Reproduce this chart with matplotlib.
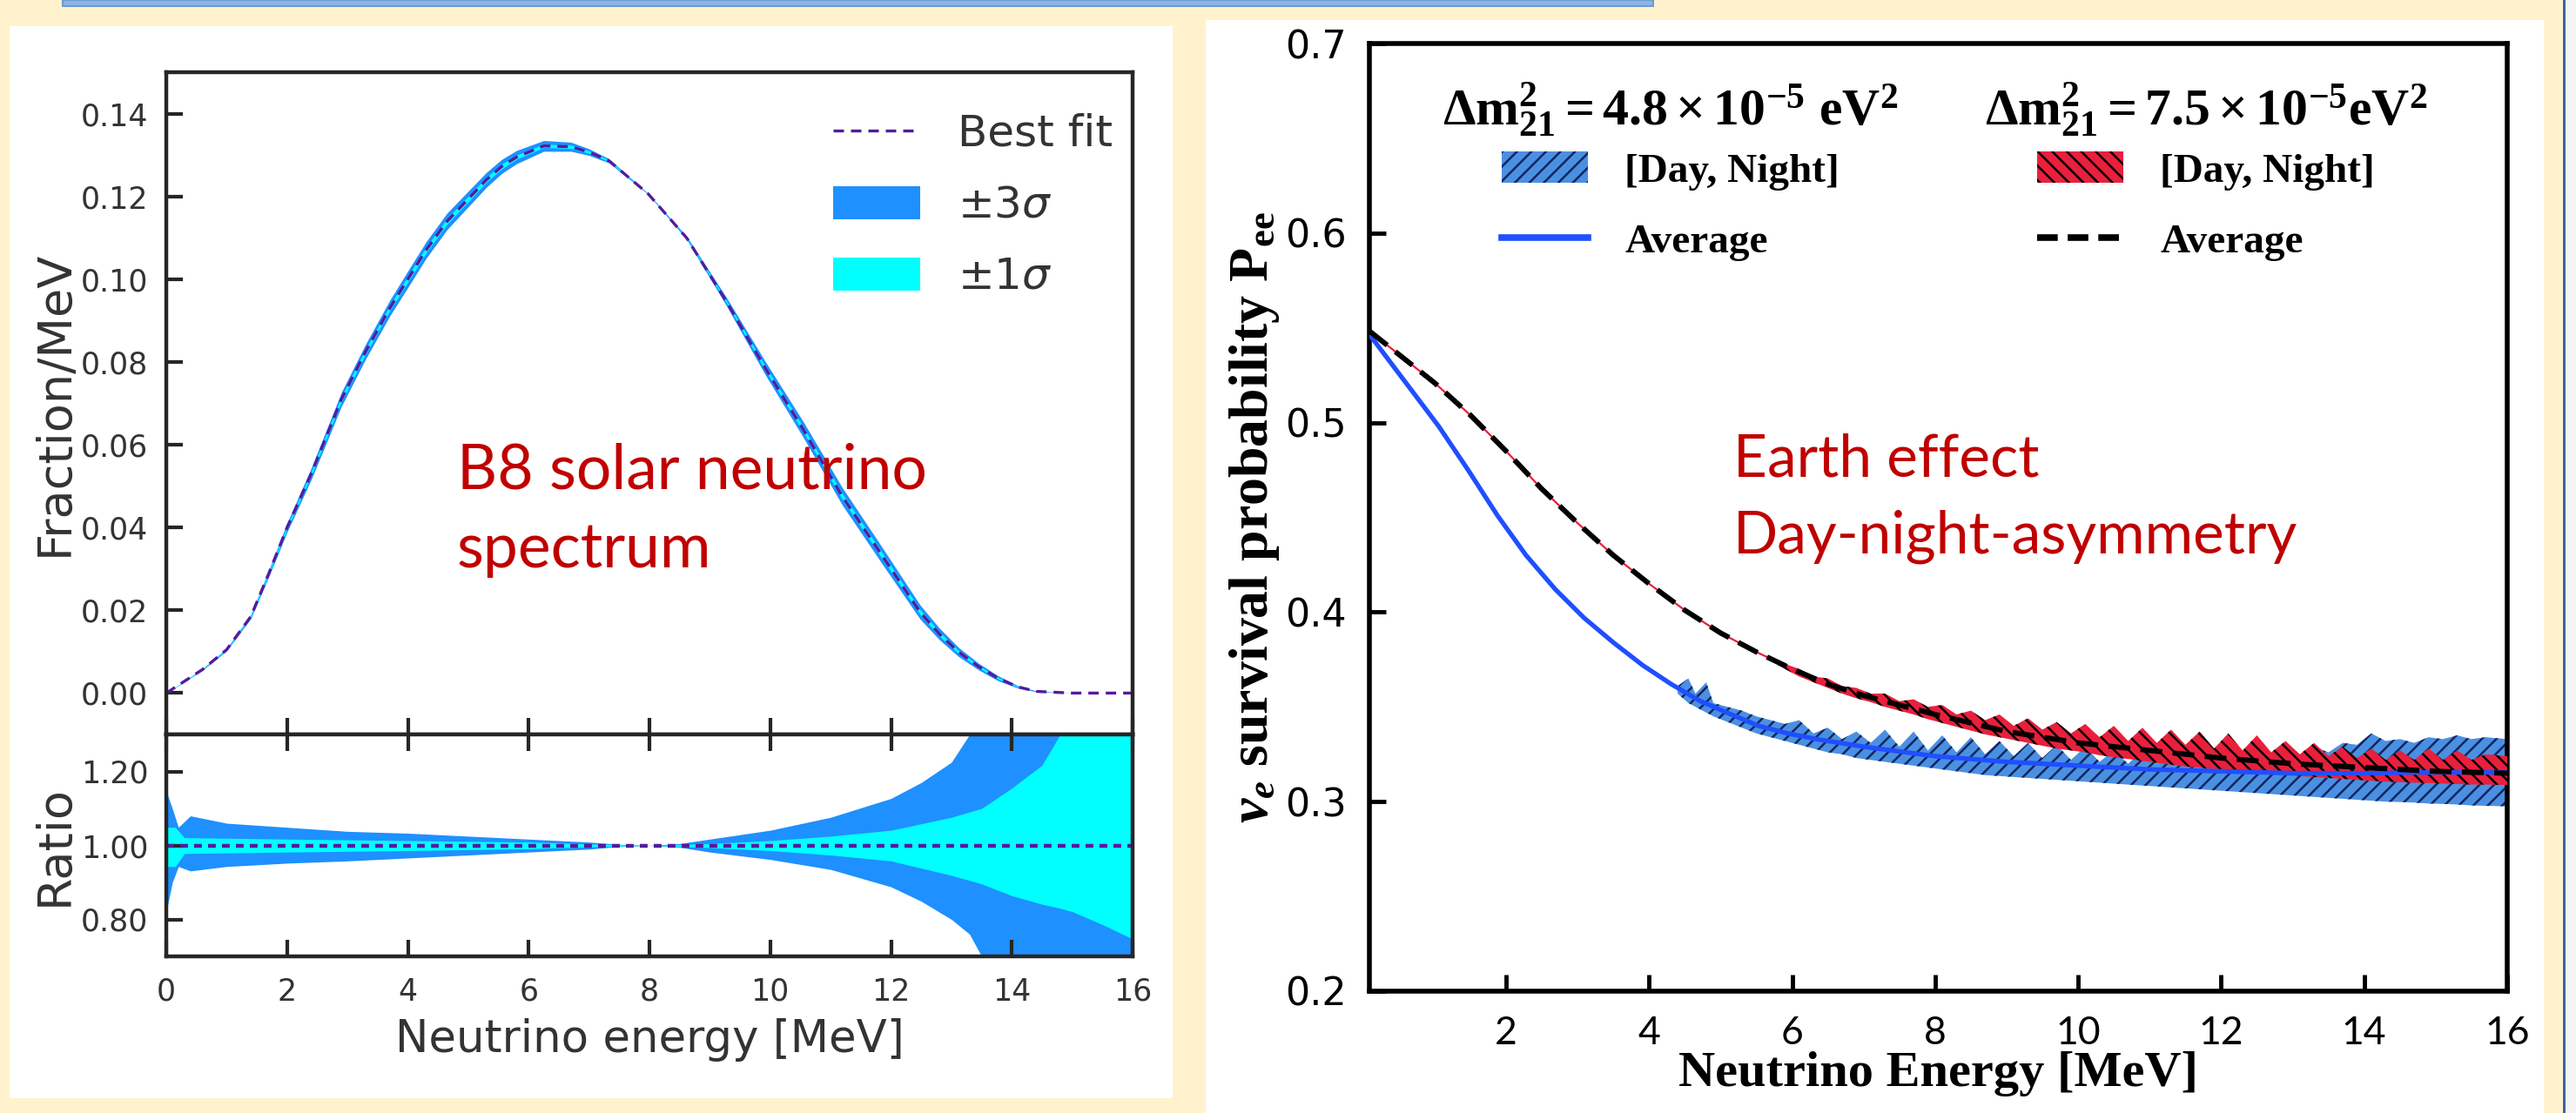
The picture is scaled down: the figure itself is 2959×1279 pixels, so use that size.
import numpy as np
import matplotlib
matplotlib.use("Agg")
import matplotlib.pyplot as plt
from matplotlib.patches import Rectangle, Patch
from matplotlib.lines import Line2D
from matplotlib.font_manager import FontProperties
from matplotlib.ticker import FormatStrFormatter

# ---------------- data: B8 spectrum (left) ----------------
E_spec = [0, 0.6, 1.0, 1.4, 1.7, 2.0, 2.4, 2.9, 3.3, 3.7, 4.0, 4.3, 4.65, 5.3, 5.55, 5.8, 6.25,
          6.7, 7.0, 7.33, 7.98, 8.62, 9.27, 9.91, 10.55, 11.19, 11.84, 12.48, 12.8, 13.12,
          13.45, 13.77, 14.1, 14.41, 15.0, 16.0]
spec_fit = [0, 0.0057, 0.0105, 0.0185, 0.029, 0.040, 0.053, 0.071, 0.0825, 0.093, 0.100,
            0.1070, 0.114, 0.124, 0.1272, 0.1295, 0.1322, 0.132, 0.1307, 0.1286, 0.1206,
            0.1099, 0.0947, 0.0787, 0.0636, 0.0476, 0.0335, 0.0196, 0.0143, 0.0099, 0.0064,
            0.0036, 0.0015, 0.0004, 0.0, 0.0]
spec_err3 = [0, 0.0002, 0.0003, 0.0005, 0.0008, 0.0011, 0.0014, 0.0017, 0.0018, 0.0019,
             0.0020, 0.0020, 0.0020, 0.0018, 0.0017, 0.0016, 0.0013, 0.0011, 0.0008, 0.0005,
             0.0001, 0.0004, 0.0010, 0.0016, 0.0019, 0.0021, 0.0020, 0.0017, 0.0014, 0.0011,
             0.0008, 0.0006, 0.0003, 0.0001, 0.0, 0.0]
spec_err1 = [0, 0.0001, 0.0001, 0.0002, 0.0003, 0.0004, 0.0005, 0.0006, 0.0006, 0.0006,
             0.0007, 0.0007, 0.0007, 0.0006, 0.0006, 0.0005, 0.0004, 0.0004, 0.0003, 0.0002,
             0.0, 0.0001, 0.0003, 0.0005, 0.0006, 0.0007, 0.0007, 0.0006, 0.0005, 0.0004,
             0.0003, 0.0002, 0.0001, 0.0, 0.0, 0.0]

E_r3 = [0, 0.1, 0.2, 0.4, 1, 2, 3, 4, 5, 6, 7, 7.5, 8, 8.5, 9, 10, 11, 12, 12.5, 13, 13.3,
        13.5, 14, 15, 16]
r3_hi = [1.147, 1.10, 1.049, 1.08, 1.06, 1.049, 1.038, 1.033, 1.025, 1.017, 1.009, 1.003, 1.0,
         1.005, 1.017, 1.041, 1.076, 1.127, 1.17, 1.225, 1.30, 1.35, 1.4, 1.4, 1.4]
r3_lo = [0.821, 0.90, 0.943, 0.931, 0.943, 0.952, 0.958, 0.966, 0.974, 0.982, 0.99, 0.997, 1.0,
         0.995, 0.982, 0.962, 0.935, 0.888, 0.849, 0.80, 0.76, 0.70, 0.6, 0.6, 0.6]
E_r1 = [0, 0.15, 0.3, 2, 4, 6, 7, 8, 9, 10, 11, 12, 13, 13.5, 14, 14.5, 14.8, 15, 15.5, 16]
r1_hi = [1.049, 1.049, 1.021, 1.017, 1.013, 1.009, 1.004, 1.0, 1.005, 1.013, 1.025, 1.041,
         1.076, 1.10, 1.155, 1.217, 1.30, 1.33, 1.36, 1.40]
r1_lo = [0.943, 0.943, 0.978, 0.982, 0.986, 0.991, 0.996, 1.0, 0.994, 0.986, 0.974, 0.958,
         0.919, 0.896, 0.864, 0.841, 0.83, 0.821, 0.786, 0.747]

# ---------------- data: survival probability (right) ----------------
E_low = [0.1, 0.66, 1.06, 1.47, 1.88, 2.28, 2.69, 3.09, 3.50, 3.91, 4.31, 4.72, 5.12, 5.53,
         5.94, 6.34, 7.0, 8.0, 9.0, 10.0, 11.0, 12.0, 13.0, 14.0, 15.0, 16.0]
P_low_avg = [0.546, 0.518, 0.498, 0.475, 0.451, 0.430, 0.412, 0.397, 0.384, 0.372, 0.362,
             0.353, 0.3465, 0.340, 0.336, 0.333, 0.329, 0.324, 0.321, 0.319, 0.317, 0.316,
             0.315, 0.315, 0.3155, 0.3155]
E_high = [0.1, 0.5, 1.0, 1.5, 2.0, 2.5, 3.0, 3.5, 4.0, 4.5, 5.0, 5.5, 6.0, 6.5, 7.0, 8.0,
          9.0, 10.0, 11.0, 12.0, 13.0, 14.0, 15.0, 16.0]
P_high_avg = [0.548, 0.536, 0.521, 0.504, 0.485, 0.465, 0.447, 0.430, 0.415, 0.401, 0.389,
              0.379, 0.370, 0.362, 0.356, 0.346, 0.337, 0.331, 0.327, 0.323, 0.320, 0.318,
              0.316, 0.315]

E_bb = [4.4, 4.55, 4.65, 4.8, 4.9, 5.1, 5.3, 5.5, 5.7, 5.9, 6.1, 6.3, 6.5, 6.7, 6.9, 7.1, 7.3,
        7.5, 7.7, 7.9, 8.1, 8.3, 8.5, 8.7, 8.9, 9.1, 9.3, 9.5, 9.7, 9.9, 10.1, 10.3, 10.5, 10.7,
        10.9, 11.1, 11.3, 11.5, 11.7, 11.9, 12.1, 12.3, 12.5, 12.7, 12.9, 13.1, 13.3, 13.5, 13.7,
        13.9, 14.1, 14.3, 14.5, 14.7, 14.9, 15.1, 15.3, 15.5, 15.7, 16.0]
bb_hi = [0.361, 0.365, 0.357, 0.363, 0.352, 0.350, 0.348, 0.345, 0.343, 0.341, 0.343, 0.336,
         0.339, 0.333, 0.337, 0.331, 0.338, 0.329, 0.337, 0.327, 0.335, 0.326, 0.334, 0.325,
         0.332, 0.324, 0.331, 0.323, 0.330, 0.322, 0.329, 0.321, 0.327, 0.320, 0.327, 0.320,
         0.326, 0.319, 0.326, 0.319, 0.325, 0.319, 0.326, 0.320, 0.327, 0.322, 0.329, 0.326,
         0.331, 0.330, 0.336, 0.332, 0.333, 0.331, 0.334, 0.333, 0.335, 0.333, 0.334, 0.333]
bb_lo = [0.357, 0.352, 0.350, 0.347, 0.345, 0.342, 0.339, 0.336, 0.334, 0.332, 0.330, 0.328,
         0.326, 0.325, 0.323, 0.322, 0.321, 0.320, 0.319, 0.318, 0.317, 0.316, 0.315, 0.314,
         0.3135, 0.313, 0.3125, 0.312, 0.3115, 0.311, 0.3105, 0.310, 0.3095, 0.309, 0.3085,
         0.308, 0.3075, 0.307, 0.3065, 0.306, 0.3055, 0.305, 0.3045, 0.304, 0.3035, 0.303,
         0.3025, 0.302, 0.3015, 0.301, 0.3005, 0.300, 0.2998, 0.2995, 0.299, 0.2988, 0.2985,
         0.298, 0.2978, 0.2975]

E_rb = [5.8, 6.1, 6.3, 6.5, 6.7, 6.9, 7.1, 7.3, 7.5, 7.7, 7.9, 8.1, 8.3, 8.5, 8.7, 8.9, 9.1,
        9.3, 9.5, 9.7, 9.9, 10.1, 10.3, 10.5, 10.7, 10.9, 11.1, 11.3, 11.5, 11.7, 11.9, 12.1,
        12.3, 12.5, 12.7, 12.9, 13.1, 13.3, 13.5, 13.7, 13.9, 14.1, 14.3, 14.5, 14.7, 14.9,
        15.1, 15.3, 15.5, 15.7, 16.0]
rb_hi = [0.374, 0.370, 0.366, 0.365, 0.361, 0.360, 0.357, 0.357, 0.353, 0.354, 0.350, 0.351,
         0.346, 0.348, 0.343, 0.346, 0.340, 0.344, 0.338, 0.342, 0.336, 0.341, 0.334, 0.340,
         0.332, 0.339, 0.331, 0.338, 0.330, 0.337, 0.328, 0.336, 0.327, 0.335, 0.326, 0.332,
         0.325, 0.331, 0.324, 0.329, 0.323, 0.328, 0.322, 0.327, 0.322, 0.328, 0.322, 0.327,
         0.322, 0.325, 0.324]
rb_lo = [0.372, 0.366, 0.363, 0.360, 0.357, 0.3545, 0.3525, 0.350, 0.348, 0.346, 0.3435,
         0.3415, 0.3395, 0.3375, 0.3355, 0.334, 0.3325, 0.331, 0.3295, 0.328, 0.327, 0.326,
         0.3245, 0.3235, 0.3225, 0.3215, 0.3205, 0.3195, 0.3185, 0.318, 0.317, 0.3165, 0.3155,
         0.315, 0.3145, 0.314, 0.3135, 0.313, 0.3125, 0.312, 0.3115, 0.311, 0.3105, 0.3103,
         0.310, 0.3098, 0.3095, 0.3093, 0.309, 0.309, 0.3088]

x_ticks_left = [0, 2, 4, 6, 8, 10, 12, 14, 16]
y_ticks_spec = [0.00, 0.02, 0.04, 0.06, 0.08, 0.10, 0.12, 0.14]
y_ticks_ratio = [0.80, 1.00, 1.20]
x_ticks_right = [2, 4, 6, 8, 10, 12, 14, 16]
y_ticks_right = [0.2, 0.3, 0.4, 0.5, 0.6, 0.7]

# ---------------- style ----------------
W, H = 2959, 1279
DPI = 100
plt.rcParams['mathtext.fontset'] = 'custom'
plt.rcParams['mathtext.rm'] = 'Liberation Serif:bold'
plt.rcParams['mathtext.it'] = 'Liberation Serif:italic:bold'
plt.rcParams['mathtext.bf'] = 'Liberation Serif:bold'
plt.rcParams['hatch.linewidth'] = 1.8

def fx(x):
    return x / W

def fy(y):
    return 1 - y / H

fig = plt.figure(figsize=(W / DPI, H / DPI), dpi=DPI)
fig.patch.set_facecolor('#FFF2CC')

# slide decorations
fig.add_artist(Rectangle((fx(72), fy(7)), (1899 - 72) / W, 7 / H, transform=fig.transFigure,
                         facecolor='#8DB4E2', edgecolor='#6C9BD2', lw=1.5, zorder=-10))
fig.add_artist(Rectangle((fx(11), fy(1262)), (1347 - 11) / W, (1262 - 30) / H,
                         transform=fig.transFigure, facecolor='white', edgecolor='none', zorder=-10))
fig.add_artist(Rectangle((fx(1385), fy(1279)), (2922 - 1385) / W, (1279 - 23) / H,
                         transform=fig.transFigure, facecolor='white', edgecolor='none', zorder=-10))
fig.add_artist(Rectangle((fx(2944), 0), 3 / W, 1, transform=fig.transFigure,
                         facecolor='#3F63A6', edgecolor='none', zorder=-10))
fig.add_artist(Rectangle((fx(2947), 0), 12 / W, 1, transform=fig.transFigure,
                         facecolor='#F4F4F4', edgecolor='none', zorder=-10))

DARK = '#262626'
TXT = '#333333'
PURPLE = '#551A9E'

# ---------------- left top: spectrum ----------------
ax1 = fig.add_axes([fx(191), fy(844), 1110 / W, 761 / H])
E = np.array(E_spec)
f = np.array(spec_fit)
e3 = np.array(spec_err3)
e1 = np.array(spec_err1)
ax1.fill_between(E, f - e3, f + e3, color='#1E90FF', lw=0)
ax1.fill_between(E, f - e1, f + e1, color='#00FFFF', lw=0)
ax1.plot(E, f, color=PURPLE, lw=2.4, ls=(0, (3.6, 2.4)))
ax1.set_xlim(0, 16)
ax1.set_ylim(-0.01, 0.15)
ax1.set_xticks(x_ticks_left)
ax1.set_yticks(y_ticks_spec)
ax1.yaxis.set_major_formatter(FormatStrFormatter('%.2f'))
ax1.tick_params(direction='in', length=14, width=3, color=DARK, labelsize=25,
                labelcolor=TXT, bottom=True, top=False, left=True, right=False,
                labelbottom=False, pad=15)
for s in ax1.spines.values():
    s.set_linewidth(3.2)
    s.set_color(DARK)
ax1.set_ylabel('Fraction/MeV', fontsize=39, color=TXT)
ax1.yaxis.set_label_coords((89 - 191) / 1110, 0.5)

lh = [Line2D([], [], color=PURPLE, lw=2.4, ls=(0, (3.6, 2.4))),
      Patch(facecolor='#1E90FF', edgecolor='none'),
      Patch(facecolor='#00FFFF', edgecolor='none')]
leg0 = ax1.legend(lh, ['Best fit', r'$\pm3\sigma$', r'$\pm1\sigma$'], loc='upper left',
                  bbox_to_anchor=(fx(957), fy(130)), bbox_transform=fig.transFigure,
                  frameon=False, borderpad=0, borderaxespad=0, handlelength=2.0,
                  handleheight=0.8, handletextpad=0.86, labelspacing=0.68,
                  prop=FontProperties(family='DejaVu Sans', size=36,
                                      math_fontfamily='dejavusans'))
for t in leg0.get_texts():
    t.set_color(TXT)

# ---------------- left bottom: ratio ----------------
ax2 = fig.add_axes([fx(191), fy(1099), 1110 / W, 255 / H])
ax2.fill_between(E_r3, r3_lo, r3_hi, color='#1E90FF', lw=0)
ax2.fill_between(E_r1, r1_lo, r1_hi, color='#00FFFF', lw=0)
ax2.axhline(1.0, color=PURPLE, lw=3.2, ls=(0, (2.0, 1.6)))
ax2.set_xlim(0, 16)
ax2.set_ylim(0.7, 1.3)
ax2.set_xticks(x_ticks_left)
ax2.set_xticklabels([str(v) for v in x_ticks_left])
ax2.set_yticks(y_ticks_ratio)
ax2.yaxis.set_major_formatter(FormatStrFormatter('%.2f'))
ax2.tick_params(direction='in', length=14, width=3, color=DARK, labelsize=25,
                labelcolor=TXT, bottom=True, top=True, left=True, right=False)
ax2.tick_params(axis='x', pad=17)
ax2.tick_params(axis='y', pad=15)
for s in ax2.spines.values():
    s.set_linewidth(3.2)
    s.set_color(DARK)
ax2.set_ylabel('Ratio', fontsize=39, color=TXT)
ax2.yaxis.set_label_coords((89 - 191) / 1110, 0.5)
ax2.set_xlabel('Neutrino energy [MeV]', fontsize=37, color=TXT, labelpad=10)

# ---------------- right: survival probability ----------------
ax3 = fig.add_axes([fx(1573), fy(1139), 1307 / W, 1089 / H])
BLUEF = '#4A90E2'
REDF = '#E8203C'
ax3.fill_between(E_bb, bb_lo, bb_hi, facecolor=BLUEF, edgecolor='#13255E', hatch='//', lw=0,
                 zorder=2)
ax3.plot(E_high, P_high_avg, color=REDF, lw=1.6, zorder=2.5)
ax3.fill_between(E_rb, rb_lo, rb_hi, facecolor=REDF, edgecolor='black', hatch='\\\\', lw=0,
                 zorder=3)
ax3.plot(E_low, P_low_avg, color='#1F4FFF', lw=3.8, zorder=4)
ax3.plot(E_high, P_high_avg, color='black', lw=4.3, ls=(0, (4.2, 2.0)), zorder=5)
ax3.set_xlim(0.09, 16)
ax3.set_ylim(0.2, 0.7)
ax3.set_xticks(x_ticks_right)
ax3.set_xticklabels([str(v) for v in x_ticks_right])
ax3.set_yticks(y_ticks_right)
ax3.set_yticklabels(['%.1f' % v for v in y_ticks_right])
ax3.tick_params(direction='in', length=14, width=3.5, color='black', labelcolor='black',
                bottom=True, top=False, left=True, right=False)
ax3.tick_params(axis='x', pad=20, labelsize=32)
ax3.tick_params(axis='y', pad=19, labelsize=32)
for lab in ax3.get_xticklabels():
    lab.set_family('Lato')
for lab in ax3.get_yticklabels():
    lab.set_family('DejaVu Sans')
for s in ax3.spines.values():
    s.set_linewidth(4.0)
    s.set_color('black')
ax3.set_xlabel('Neutrino Energy [MeV]', fontsize=42, fontweight='bold',
               family='Liberation Serif', labelpad=0)
ax3.set_ylabel(r'$\nu_e$ survival probability P$_{\mathrm{ee}}$', fontsize=46,
               fontweight='bold', family='Liberation Serif')
ax3.yaxis.set_label_coords((1472 - 1573) / 1307, 0.5)

lfont = FontProperties(family='Liberation Serif', weight='bold', size=34)
tfont = FontProperties(family='Liberation Serif', weight='bold', size=43)
common = dict(loc='upper center', bbox_transform=fig.transFigure, frameon=False, borderpad=0,
              borderaxespad=0, handlelength=2.1, handleheight=0.8, handletextpad=0.9,
              labelspacing=0.78, prop=lfont, title_fontproperties=tfont)
hl1 = [Patch(facecolor=BLUEF, edgecolor='#13255E', hatch='//', lw=0),
       Line2D([], [], color='#1F4FFF', lw=5.5)]
leg1 = ax3.legend(hl1, ['[Day, Night]', 'Average'],
                  title=r'$\Delta\mathrm{m}^2_{21} = 4.8\times10^{-5}$ eV$^2$',
                  bbox_to_anchor=(fx(1919), fy(93)), **common)
leg1._legend_box.sep = 10
ax3.add_artist(leg1)
hl2 = [Patch(facecolor=REDF, edgecolor='black', hatch='\\\\', lw=0),
       Line2D([], [], color='black', lw=5.5, ls=(0, (3.1, 1.5)))]
leg2 = ax3.legend(hl2, ['[Day, Night]', 'Average'],
                  title=r'$\Delta\mathrm{m}^2_{21} = 7.5\times10^{-5}$eV$^2$',
                  bbox_to_anchor=(fx(2534), fy(93)), **common)
leg2._legend_box.sep = 10

# ---------------- red slide annotations ----------------
RED = '#C00000'
renderer = fig.canvas.get_renderer()

def fitted_text(x, y, s, target_w):
    t = fig.text(fx(x), fy(y), s, color=RED, family='Lato', fontsize=40, ha='left',
                 va='baseline')
    w = t.get_window_extent(renderer=renderer).width
    t.set_fontsize(40 * target_w / w)
    return t

t1 = fitted_text(525, 562, 'B8 solar neutrino', 540)
fig.text(fx(525), fy(652), 'spectrum', color=RED, family='Lato', fontsize=t1.get_fontsize(),
         ha='left', va='baseline')
t2 = fitted_text(1991, 635, 'Day-night-asymmetry', 648)
fig.text(fx(1991), fy(548), 'Earth effect', color=RED, family='Lato',
         fontsize=t2.get_fontsize(), ha='left', va='baseline')

fig.savefig('out.png', dpi=DPI, facecolor=fig.get_facecolor())
